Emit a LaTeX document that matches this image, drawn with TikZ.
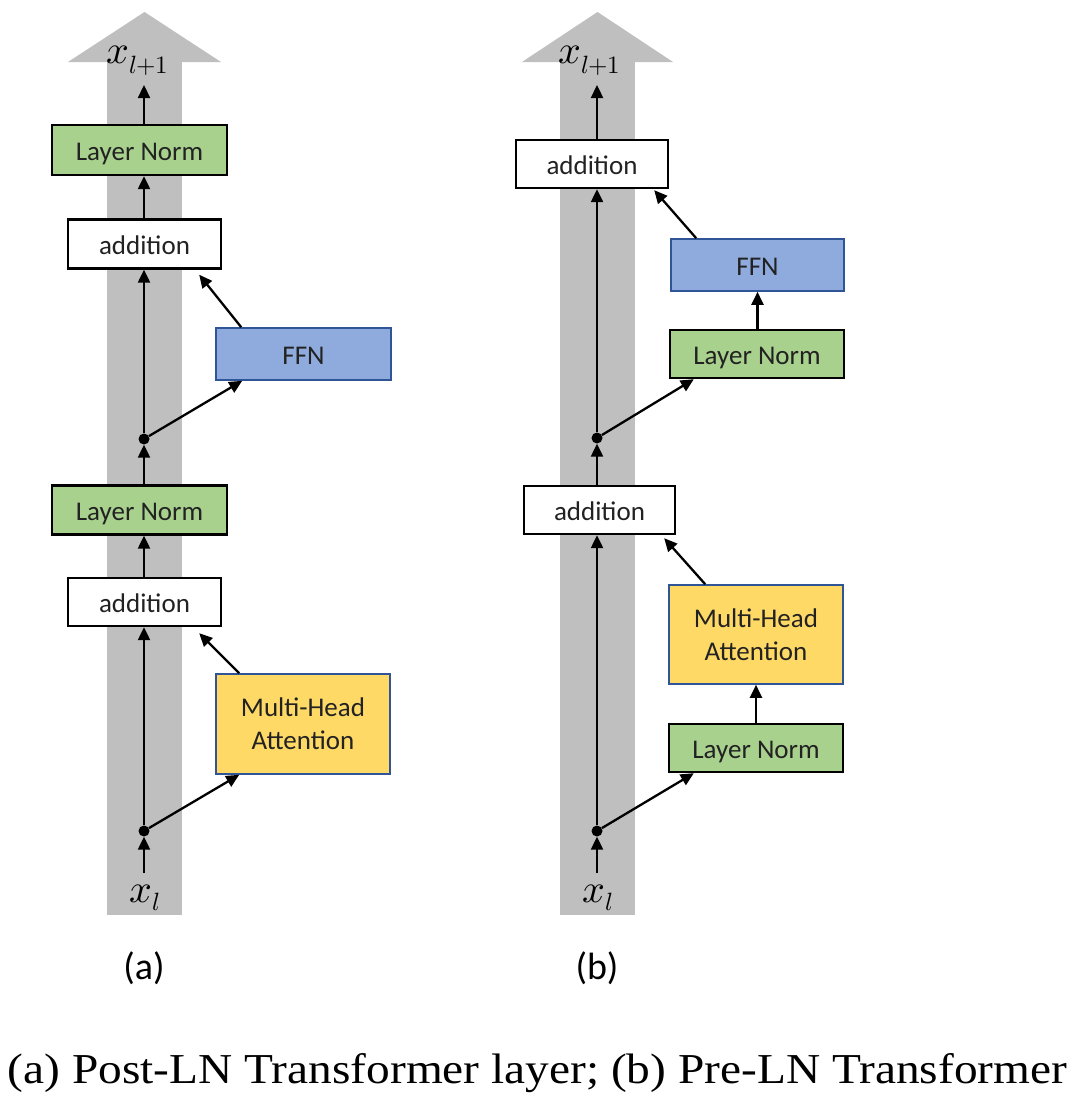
\documentclass[tikz,border=0pt]{standalone}
\usepackage{fontspec}
\usepackage{unicode-math}
\setmathfont{Latin Modern Math}
\usepackage{graphicx}
\newfontfamily\boxfont{Carlito}
\newfontfamily\capfont{Liberation Serif}
\usetikzlibrary{arrows.meta,calc}
\definecolor{bandc}{HTML}{BFBFBF}
\definecolor{greenc}{HTML}{A9D18E}
\definecolor{bluec}{HTML}{8FAADC}
\definecolor{yellowc}{HTML}{FFD966}
\definecolor{edgeblue}{HTML}{2F5597}
\definecolor{textc}{HTML}{222222}
\newcommand{\xout}{{\fontsize{40}{42}\selectfont$x$}\raisebox{-10pt}{\fontsize{25}{26}\selectfont$l{+}1$}}
\newcommand{\xin}{{\fontsize{40}{42}\selectfont$x$}\raisebox{-8pt}{\fontsize{25}{26}\selectfont$l$}}
\begin{document}
\begin{tikzpicture}[x=1pt,y=-1pt,
  box/.style={rectangle, draw=black, line width=2.4pt, inner sep=0pt,
    font=\boxfont\fontsize{27}{33}\selectfont, text=textc, align=center},
  onel/.style={text height=20pt, text depth=0pt},
  lnbox/.style={box, onel, fill=greenc},
  addbox/.style={box, onel, fill=white},
  ffnbox/.style={box, onel, fill=bluec, draw=edgeblue, line width=1.6pt},
  mhabox/.style={box, fill=yellowc, draw=edgeblue, line width=1.6pt},
  arr/.style={line width=2.3pt, -{Triangle[length=13pt,width=12pt]}},
  dotn/.style={circle, fill=black, inner sep=0pt, minimum size=11pt},
  band/.style={fill=bandc, draw=none},
  mathlab/.style={inner sep=0pt, text=black, anchor=base west},
  sublab/.style={font=\boxfont\fontsize{38}{40}\selectfont, text=black, inner sep=0pt}
]
\useasboundingbox[fill=white] (0,0) rectangle (1080,1100);

% ---- gray bands with arrow heads
\fill[band] (107,62) rectangle (182,915);
\fill[band] (68,62) -- (144.5,12) -- (221,62) -- cycle;
\fill[band] (560,62) rectangle (635,915);
\fill[band] (522,62) -- (597.5,12) -- (673,62) -- cycle;

% ---- (a) Post-LN
\node[mathlab] (xoutA) at (106,63) {\xout};
\coordinate (topA) at (144,85);
\node[lnbox, minimum width=175pt, minimum height=50pt] (lnA2) at (139.5,150) {Layer Norm};
\node[addbox, minimum width=153pt, minimum height=49pt] (addA2) at (144.5,244) {addition};
\node[ffnbox, minimum width=175pt, minimum height=52pt] (ffnA) at (303.5,354) {FFN};
\node[dotn] (dotA2) at (144,439) {};
\node[lnbox, minimum width=175pt, minimum height=49pt] (lnA1) at (139.5,510) {Layer Norm};
\node[addbox, minimum width=153pt, minimum height=48pt] (addA1) at (144.5,602) {addition};
\node[mhabox, minimum width=174pt, minimum height=100pt] (mhaA) at (303,724) {Multi-Head\\Attention};
\node[dotn] (dotA1) at (144,831) {};
\coordinate (botA) at (144,873);
\node[mathlab] (xinA) at (129,902) {\xin};
\node[sublab] (labA) at (144,968) {(a)};

\draw[arr] (botA) -- (dotA1.south);
\draw[arr] (dotA1) -- (addA1.south -| dotA1);
\draw[arr] (dotA1) -- ($(mhaA.south west)+(24,0)$);
\draw[arr] ($(mhaA.north west)+(24,0)$) -- ($(addA1.south east)+(-23,6)$);
\draw[arr] (addA1.north -| dotA1) -- (lnA1.south -| dotA1);
\draw[arr] (lnA1.north -| dotA2) -- (dotA2.south);
\draw[arr] (dotA2) -- (addA2.south -| dotA2);
\draw[arr] (dotA2) -- ($(ffnA.south west)+(27,0)$);
\draw[arr] ($(ffnA.north west)+(26,0)$) -- ($(addA2.south east)+(-23,5)$);
\draw[arr] (addA2.north -| dotA2) -- (lnA2.south -| dotA2);
\draw[arr] (lnA2.north -| dotA2) -- (topA);

% ---- (b) Pre-LN
\node[mathlab] (xoutB) at (558,63) {\xout};
\coordinate (topB) at (597,85);
\node[addbox, minimum width=152pt, minimum height=48pt] (addB2) at (592,164) {addition};
\node[ffnbox, minimum width=173pt, minimum height=52pt] (ffnB) at (757.5,265) {FFN};
\node[lnbox, minimum width=174pt, minimum height=48pt] (lnB2) at (757,354) {Layer Norm};
\node[dotn] (dotB2) at (597,438) {};
\node[addbox, minimum width=151pt, minimum height=48pt] (addB1) at (599.5,510) {addition};
\node[mhabox, minimum width=174pt, minimum height=99pt] (mhaB) at (756,634.5) {Multi-Head\\Attention};
\node[lnbox, minimum width=174pt, minimum height=48pt] (lnB1) at (756,748) {Layer Norm};
\node[dotn] (dotB1) at (597,831) {};
\coordinate (botB) at (597,873);
\node[mathlab] (xinB) at (582,902) {\xin};
\node[sublab] (labB) at (597,968) {(b)};

\draw[arr] (botB) -- (dotB1.south);
\draw[arr] (dotB1) -- (addB1.south -| dotB1);
\draw[arr] (dotB1) -- ($(lnB1.south west)+(26,0)$);
\draw[arr] (lnB1.north -| mhaB.south) -- (mhaB.south);
\draw[arr] ($(mhaB.north west)+(37,0)$) -- ($(addB1.south east)+(-12,3)$);
\draw[arr] (addB1.north -| dotB2) -- (dotB2.south);
\draw[arr] (dotB2) -- (addB2.south -| dotB2);
\draw[arr] (dotB2) -- ($(lnB2.south west)+(25,0)$);
\draw[arr] (lnB2.north -| ffnB.south) -- (ffnB.south);
\draw[arr] ($(ffnB.north west)+(26,0)$) -- ($(addB2.south east)+(-15,1)$);
\draw[arr] (addB2.north -| dotB2) -- (topB);

% ---- caption
\node[inner sep=0pt, anchor=base] (cap) at (537.5,1083) {\resizebox{1059pt}{30pt}{\capfont\fontsize{42}{46}\selectfont (a) Post-LN Transformer layer; (b) Pre-LN Transformer}};
\end{tikzpicture}
\end{document}
